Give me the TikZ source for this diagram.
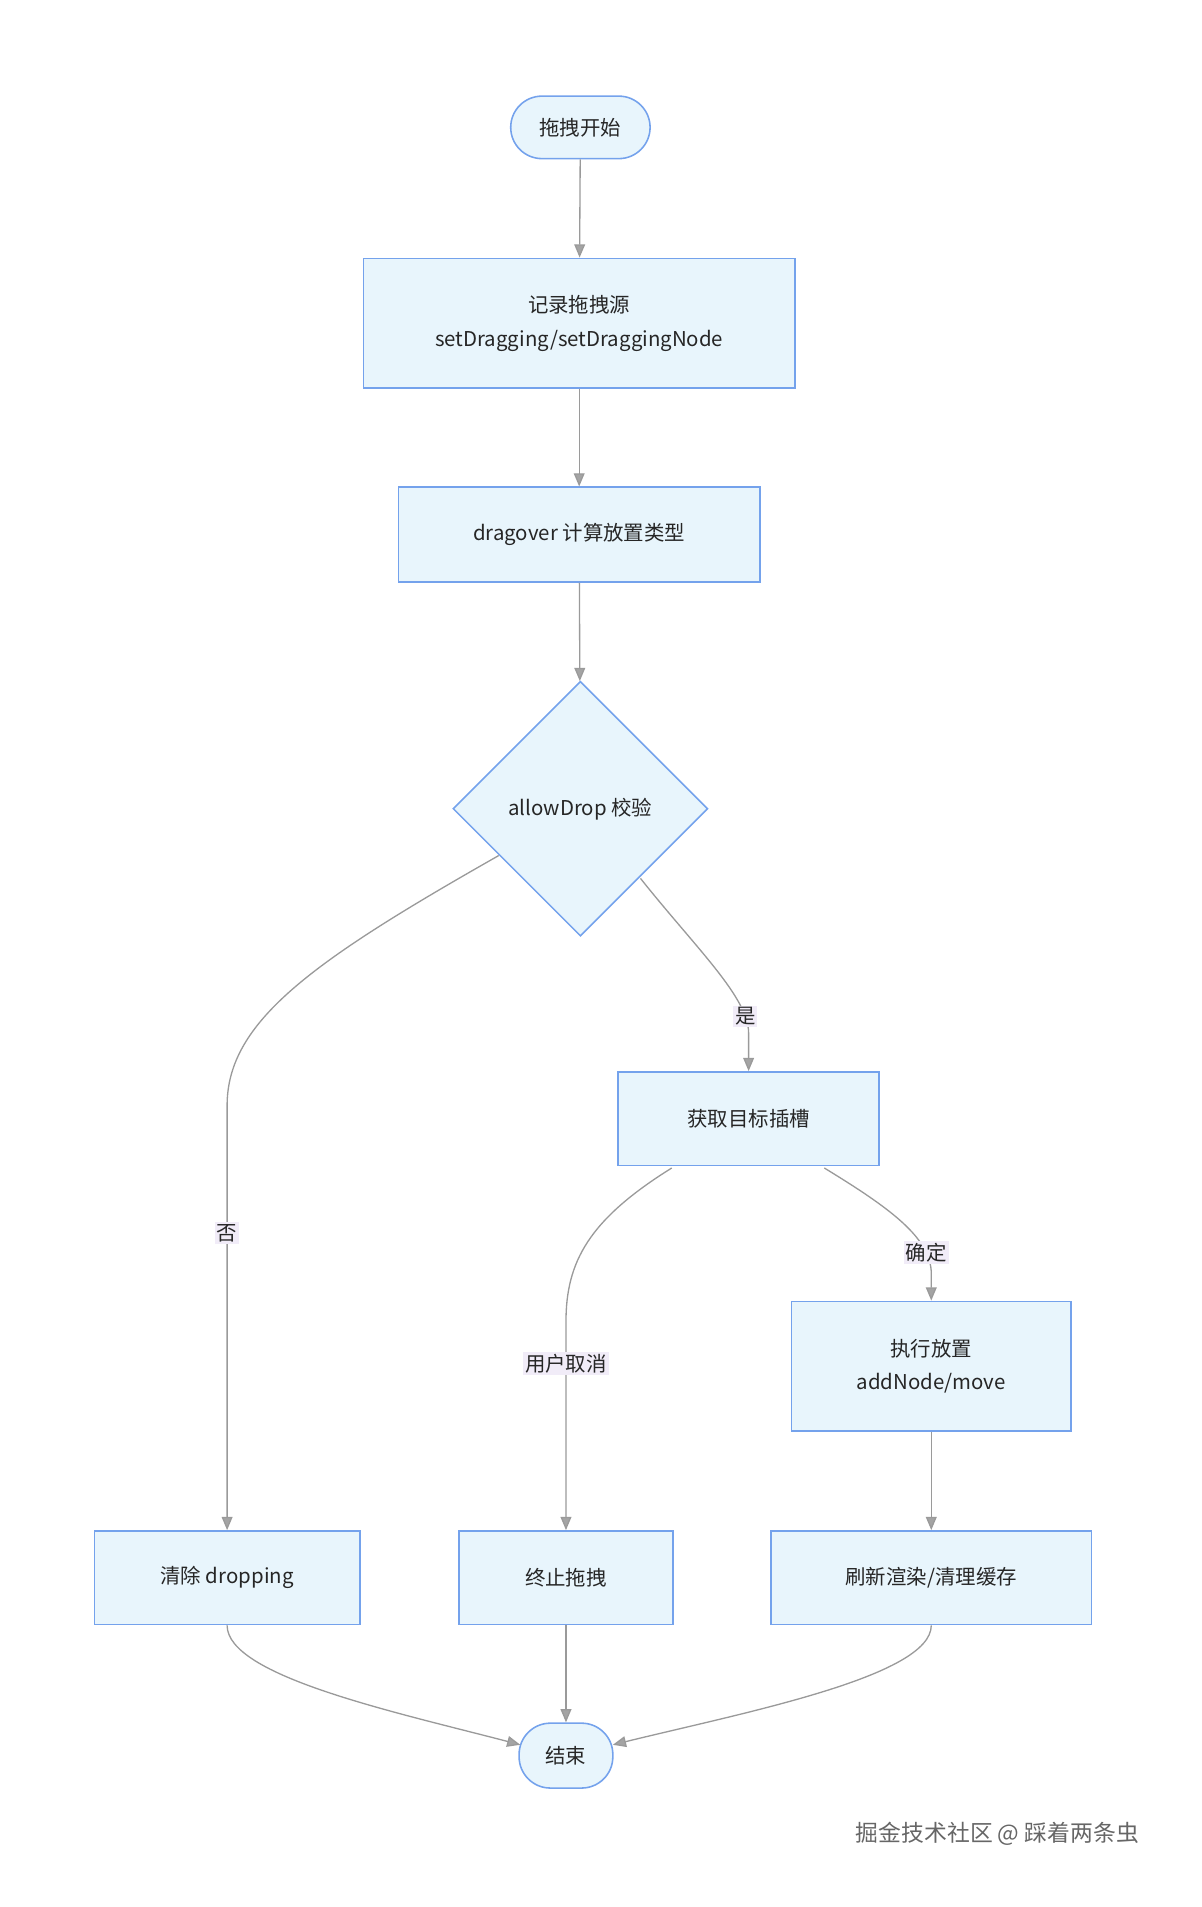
\documentclass[tikz,border=0pt]{standalone}
\usepackage{fontspec}
\setmainfont{Noto Sans CJK SC}
\usetikzlibrary{shapes.geometric,arrows.meta}
\definecolor{nfill}{HTML}{E8F5FC}
\definecolor{nline}{HTML}{74A2EC}
\definecolor{edge}{HTML}{9A9A9A}
\definecolor{lbl}{HTML}{F1ECF8}
\begin{document}
\begin{tikzpicture}[x=1pt,y=-1pt,
 box/.style={draw=nline,fill=nfill,line width=1.3pt,minimum width=#1,inner sep=0pt,align=center,font=\fontsize{17}{28}\selectfont,text=black!85},
 term/.style={draw=nline,fill=nfill,line width=1.3pt,rounded corners=26pt,inner sep=0pt,font=\fontsize{17}{20}\selectfont,text=black!85},
 dia/.style={draw=nline,fill=nfill,line width=1.3pt,diamond,minimum width=212pt,minimum height=212pt,inner sep=0pt,font=\fontsize{17}{20}\selectfont,text=black!85},
 ed/.style={draw=edge,line width=1.1pt,-{Triangle[length=11pt,width=9pt,fill=edge!90]}},
 lb/.style={fill=lbl,inner sep=1.5pt,font=\fontsize{17}{20}\selectfont,text=black!85}]
\useasboundingbox (0,0) rectangle (1000,1587);
\node[term,minimum width=116pt,minimum height=52pt] (s) at (483,106) {拖拽开始};
\node[box=359pt,minimum height=108pt] (r) at (482,269) {记录拖拽源\\setDragging/setDraggingNode};
\node[box=301pt,minimum height=79pt] (d) at (482,445) {dragover 计算放置类型};
\node[dia] (a) at (483,673) {allowDrop 校验};
\node[box=217pt,minimum height=78pt] (g) at (623,931) {获取目标插槽};
\node[box=233pt,minimum height=108pt] (x) at (775,1137) {执行放置\\addNode/move};
\node[box=221pt,minimum height=78pt] (c) at (189,1313) {清除 dropping};
\node[box=178pt,minimum height=78pt] (t) at (471,1313) {终止拖拽};
\node[box=267pt,minimum height=78pt] (f) at (775,1313) {刷新渲染/清理缓存};
\node[term,minimum width=78pt,minimum height=54pt] (e) at (471,1461) {结束};
\coordinate (a1) at (415,712);
\coordinate (a2) at (533,731);
\coordinate (g1) at (559,972);
\coordinate (g2) at (686,972);
\coordinate (e1) at (433,1452);
\coordinate (e2) at (510,1452);
\draw[ed] (s) -- (r);
\draw[ed] (r) -- (d);
\draw[ed] (d) -- (a);
\draw[ed] (a1) .. controls (260,800) and (189,850) .. (189,920) -- node[lb,pos=0.3]{否} (c.north);
\draw[ed] (a2) .. controls (580,790) and (623,830) .. node[lb,pos=0.85]{是} (623,860) -- (g.north);
\draw[ed] (g1) .. controls (490,1015) and (471,1050) .. (471,1100) -- node[lb,pos=0.2]{用户取消} (t.north);
\draw[ed] (g2) .. controls (740,1005) and (775,1030) .. node[lb,pos=0.8]{确定} (775,1060) -- (x.north);
\draw[ed] (x) -- (f);
\draw[ed] (c.south) .. controls (189,1395) and (330,1425) .. (e1);
\draw[ed] (t) -- (e);
\draw[ed] (f.south) .. controls (775,1395) and (620,1425) .. (e2);
\node[text=black!60,font=\fontsize{19}{22}\selectfont] (w) at (830,1526) {掘金技术社区 @ 踩着两条虫};
\end{tikzpicture}
\end{document}
